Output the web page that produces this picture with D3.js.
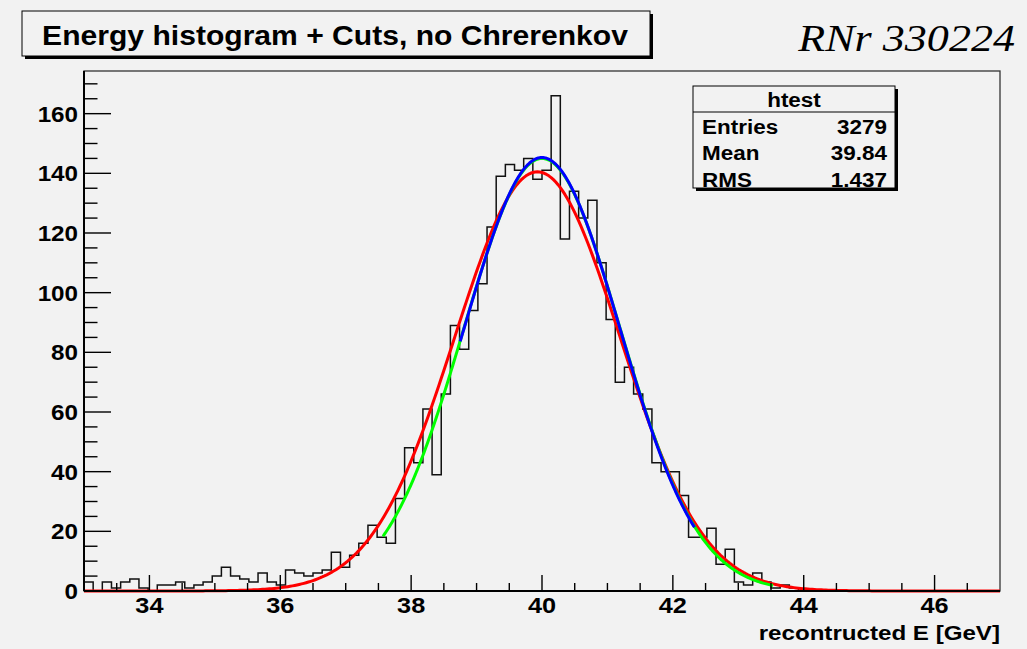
<!DOCTYPE html>
<html><head><meta charset="utf-8">
<script src="https://cdn.jsdelivr.net/npm/d3@7"></script>
<style>
html,body{margin:0;padding:0;background:#f2f2f2;}
svg{display:block;}
</style></head><body>
<svg id="c" width="1027" height="649"></svg>
<script>
// Histogram binning: 100 bins from 33 to 47 GeV
const binLow = 33, binHigh = 47;
const counts = [
  3, 0, 3, 1, 3, 4, 1, 0, 2, 2,
  3, 1, 2, 3, 5, 8, 5, 4, 3, 6,
  3, 2, 7, 6, 5, 6, 7, 13, 8, 12,
  16, 22, 18, 16, 31, 48, 43, 61, 39, 66,
  89, 81, 94, 103, 122, 139, 143, 141, 145, 138,
  141, 166, 118, 134, 125, 131, 110, 91, 70, 75,
  66, 61, 43, 40, 40, 32, 18, 18, 21, 9,
  14, 3, 2, 6, 3, 1, 2, 1, 0, 0,
  0, 0, 0, 0, 0, 0, 0, 0, 0, 0,
  0, 0, 0, 0, 0, 0, 0, 0, 0, 0
];

// Gaussian fits: amplitude, mean, sigma and fit range
const fitColors = ["#ff0000", "#00ff00", "#0000ff"];
const fitAmp    = [140.5, 145.0, 145.3];
const fitMean   = [39.93, 40.00, 40.00];
const fitSigma  = [1.262, 1.195, 1.19];
const fitLo     = [33.0, 37.57, 38.75];
const fitHi     = [47.0, 43.53, 42.33];

const xMajorTicks = [34, 36, 38, 40, 42, 44, 46];
const yMajorTicks = [0, 20, 40, 60, 80, 100, 120, 140, 160];

const statsTitle = "htest";
const statsLabels = ["Entries", "Mean", "RMS"];
const statsValues = ["3279", "39.84", "1.437"];

const titleText = "Energy histogram + Cuts, no Chrerenkov";
const runText = "RNr 330224";
const xAxisTitle = "recontructed E [GeV]";

const yMax = 1.05 * d3.max(counts);

const svg = d3.select("#c");
const W = 1027, H = 649;
const frame = {l: 84, r: 1000, t: 71, b: 591};
const sansFont = "'Liberation Sans', Arial, Helvetica, sans-serif";
const sx = 1.12; // horizontal widening of the sans labels

svg.append("rect").attr("width", W).attr("height", H).attr("fill", "#f2f2f2");

const x = d3.scaleLinear().domain([binLow, binHigh]).range([frame.l, frame.r]);
const y = d3.scaleLinear().domain([0, yMax]).range([frame.b, frame.t]);

function label(parent, str, px, py, size, anchor, opts = {}) {
  return parent.append("text")
    .attr("transform", `translate(${px},${py}) scale(${opts.sx ?? sx},1)`)
    .attr("text-anchor", anchor)
    .attr("font-family", opts.family ?? sansFont)
    .attr("font-weight", opts.weight ?? "bold")
    .attr("font-style", opts.style ?? "normal")
    .attr("font-size", size)
    .attr("fill", "#000")
    .text(str);
}

// frame border
svg.append("rect")
  .attr("x", frame.l).attr("y", frame.t)
  .attr("width", frame.r - frame.l).attr("height", frame.b - frame.t)
  .attr("fill", "#f2f2f2").attr("stroke", "#333").attr("stroke-width", 1.3);

// histogram outline
const bw = (binHigh - binLow) / counts.length;
const histPts = [];
counts.forEach((c, i) => {
  histPts.push([binLow + i * bw, c]);
  histPts.push([binLow + (i + 1) * bw, c]);
});
const histLine = d3.line().x(d => x(d[0])).y(d => y(d[1]));
svg.append("path")
  .attr("d", histLine([[binLow, 0], ...histPts, [binHigh, 0]]))
  .attr("fill", "none").attr("stroke", "#111").attr("stroke-width", 1.5);

// fitted gaussians
const fitLine = d3.line().x(d => x(d[0])).y(d => y(d[1]));
fitColors.forEach((col, k) => {
  const pts = [];
  const n = 400;
  for (let j = 0; j <= n; j++) {
    const xv = fitLo[k] + (fitHi[k] - fitLo[k]) * j / n;
    const z = (xv - fitMean[k]) / fitSigma[k];
    pts.push([xv, fitAmp[k] * Math.exp(-0.5 * z * z)]);
  }
  svg.append("path").attr("d", fitLine(pts))
    .attr("fill", "none").attr("stroke", col).attr("stroke-width", 3)
    .attr("stroke-linejoin", "round");
});

// axes
const axG = svg.append("g");
axG.append("line").attr("x1", frame.l).attr("x2", frame.l).attr("y1", frame.t).attr("y2", frame.b)
  .attr("stroke", "#000").attr("stroke-width", 2);
axG.append("line").attr("x1", frame.l).attr("x2", frame.r).attr("y1", frame.b).attr("y2", frame.b)
  .attr("stroke", "#000").attr("stroke-width", 2);

const xMinor = d3.range(33.5, 47, 0.5).filter(v => !xMajorTicks.includes(v));
xMinor.forEach(v => axG.append("line").attr("x1", x(v)).attr("x2", x(v))
  .attr("y1", frame.b).attr("y2", frame.b - 8).attr("stroke", "#000").attr("stroke-width", 1.4));
xMajorTicks.forEach(v => {
  axG.append("line").attr("x1", x(v)).attr("x2", x(v))
    .attr("y1", frame.b).attr("y2", frame.b - 16).attr("stroke", "#000").attr("stroke-width", 1.4);
  label(axG, String(v), x(v), 613, 22, "middle", {sx: 1.15});
});

const yMinor = d3.range(5, yMax, 5).filter(v => !yMajorTicks.includes(v));
yMinor.forEach(v => axG.append("line").attr("x1", frame.l).attr("x2", frame.l + 13.5)
  .attr("y1", y(v)).attr("y2", y(v)).attr("stroke", "#000").attr("stroke-width", 1.4));
yMajorTicks.forEach(v => {
  axG.append("line").attr("x1", frame.l).attr("x2", frame.l + 27)
    .attr("y1", y(v)).attr("y2", y(v)).attr("stroke", "#000").attr("stroke-width", 1.4);
  label(axG, String(v), 78, y(v) + 8, 22, "end", {sx: 1.1});
});

label(svg, xAxisTitle, frame.r, 640, 21, "end", {sx: 1.15});

// boxed pave with drop shadow
function pave(x0, y0, w, h) {
  svg.append("rect").attr("x", x0 + 3).attr("y", y0 + 3).attr("width", w).attr("height", h).attr("fill", "#000");
  svg.append("rect").attr("x", x0).attr("y", y0).attr("width", w).attr("height", h)
    .attr("fill", "#f2f2f2").attr("stroke", "#000").attr("stroke-width", 1);
}

// title
pave(22, 11, 628, 45);
label(svg, titleText, 335, 45, 28, "middle", {sx: 1.075});

// run number
label(svg, runText, 1015, 51, 38, "end",
  {family: "'Liberation Serif', 'Times New Roman', serif", weight: "normal", style: "italic", sx: 1.16});

// statistics box
const sb = {x: 693, y: 86, w: 202, h: 102};
pave(sb.x, sb.y, sb.w, sb.h);
svg.append("line").attr("x1", sb.x).attr("x2", sb.x + sb.w).attr("y1", 112).attr("y2", 112)
  .attr("stroke", "#000").attr("stroke-width", 1);
label(svg, statsTitle, sb.x + sb.w / 2, 107, 21, "middle", {sx: 1.07});
statsLabels.forEach((s, i) => {
  label(svg, s, 702, 134 + i * 26.3, 21, "start", {sx: 1.07});
  label(svg, statsValues[i], 887, 134 + i * 26.3, 21, "end", {sx: 1.07});
});
</script>
</body></html>
